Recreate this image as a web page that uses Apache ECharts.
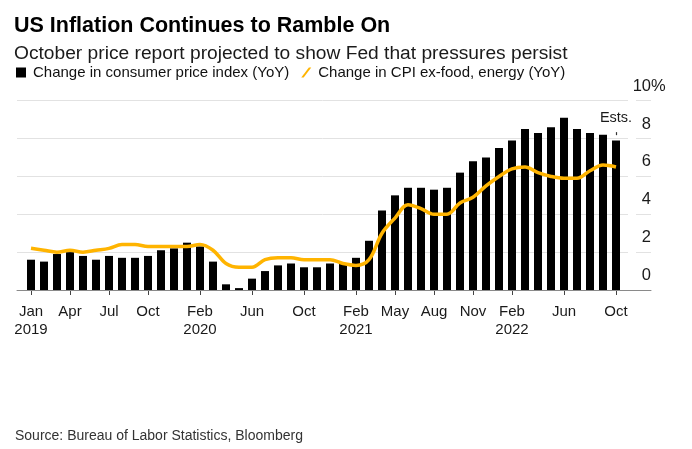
<!DOCTYPE html>
<html>
<head>
<meta charset="utf-8">
<script src="https://cdn.jsdelivr.net/npm/echarts@6/dist/echarts.min.js"></script>
<style>
html,body{margin:0;padding:0;background:#fff;}
#c{width:692px;height:449px;}
</style>
</head>
<body>
<div id="c"></div>
<script>
const months = [
  'Jan 2019','Feb 2019','Mar 2019','Apr 2019','May 2019','Jun 2019','Jul 2019','Aug 2019','Sep 2019','Oct 2019','Nov 2019','Dec 2019',
  'Jan 2020','Feb 2020','Mar 2020','Apr 2020','May 2020','Jun 2020','Jul 2020','Aug 2020','Sep 2020','Oct 2020','Nov 2020','Dec 2020',
  'Jan 2021','Feb 2021','Mar 2021','Apr 2021','May 2021','Jun 2021','Jul 2021','Aug 2021','Sep 2021','Oct 2021','Nov 2021','Dec 2021',
  'Jan 2022','Feb 2022','Mar 2022','Apr 2022','May 2022','Jun 2022','Jul 2022','Aug 2022','Sep 2022','Oct 2022'
];
const cpi = [
  1.6,1.5,1.9,2.0,1.8,1.6,1.8,1.7,1.7,1.8,2.1,2.2,
  2.5,2.3,1.5,0.3,0.1,0.6,1.0,1.3,1.4,1.2,1.2,1.4,
  1.4,1.7,2.6,4.2,5.0,5.4,5.4,5.3,5.4,6.2,6.8,7.0,
  7.5,7.9,8.5,8.3,8.6,9.1,8.5,8.3,8.2,7.9
];
const core = [
  2.2,2.1,2.0,2.1,2.0,2.1,2.2,2.4,2.4,2.3,2.3,2.3,
  2.3,2.4,2.1,1.4,1.2,1.2,1.6,1.7,1.7,1.6,1.6,1.6,
  1.4,1.3,1.6,3.0,3.8,4.5,4.3,4.0,4.0,4.6,4.9,5.5,
  6.0,6.4,6.5,6.2,6.0,5.9,5.9,6.3,6.6,6.5
];
const tickMonths = ['Jan 2019','Apr 2019','Jul 2019','Oct 2019','Feb 2020','Jun 2020','Oct 2020','Feb 2021','May 2021','Aug 2021','Nov 2021','Feb 2022','Jun 2022','Oct 2022'];
const yearMonths = ['Jan 2019','Feb 2020','Feb 2021','Feb 2022'];
const yTicks = [0, 2, 4, 6, 8, 10];
const estMonth = 'Oct 2022';
const estRange = [8.18, 8.34];

const cpiName = 'Change in consumer price index (YoY)';
const coreName = 'Change in CPI ex-food, energy (YoY)';
const FONT = '"Liberation Sans", Arial, sans-serif';

const chart = echarts.init(document.getElementById('c'), null, {renderer: 'canvas'});
const gridTop = 100.7, gridBottom = 159;
const option = {
  backgroundColor: '#fff',
  animation: false,
  textStyle: {fontFamily: FONT},
  title: [
    {text: 'US Inflation Continues to Ramble On', left: 9, top: 10,
     textStyle: {fontFamily: FONT, fontSize: 21.5, fontWeight: 'bold', color: '#000'}},
    {text: 'October price report projected to show Fed that pressures persist', left: 9, top: 39,
     textStyle: {fontFamily: FONT, fontSize: 19.2, fontWeight: 'normal', color: '#1a1a1a'}},
    {text: 'Source: Bureau of Labor Statistics, Bloomberg', left: 10, top: 424,
     textStyle: {fontFamily: FONT, fontSize: 14, fontWeight: 'normal', color: '#333'}}
  ],
  legend: {
    left: 11, top: 60, itemWidth: 10, itemHeight: 10, itemGap: 12,
    textStyle: {fontFamily: FONT, fontSize: 15, color: '#111', padding: [0,0,0,2]},
    data: [
      {name: cpiName, icon: 'rect'},
      {name: coreName, icon: 'path://M7.6,0L10,0L2.4,10L0,10Z'}
    ],
    selectedMode: false
  },
  grid: [
    {left: 24.5, right: 69.5, top: gridTop, bottom: gridBottom},
    {left: 17, right: 64, top: gridTop, bottom: gridBottom},
    {left: 636, right: 41, top: gridTop, bottom: gridBottom},
    {left: 17, right: 41, top: gridTop, bottom: gridBottom}
  ],
  xAxis: [
    {type: 'category', gridIndex: 0, data: months, boundaryGap: true,
     axisLine: {show: false},
     axisTick: {show: true, alignWithLabel: true, length: 5, lineStyle: {color: '#444', width: 1},
       interval: (i, v) => tickMonths.includes(v)},
     axisLabel: {show: true, margin: 13, fontFamily: FONT, fontSize: 15, lineHeight: 18, color: '#1a1a1a',
       interval: (i, v) => tickMonths.includes(v),
       formatter: (v) => { const p = v.split(' '); return yearMonths.includes(v) ? p[0] + '\n' + p[1] : p[0]; }},
     splitLine: {show: false}},
    {type: 'value', gridIndex: 1, show: false},
    {type: 'value', gridIndex: 2, show: false},
    {type: 'value', gridIndex: 3, min: 0, max: 1, z: 3,
     axisLine: {show: true, lineStyle: {color: '#8a8a8a', width: 1}},
     axisTick: {show: false}, axisLabel: {show: false}, splitLine: {show: false}}
  ],
  yAxis: [
    {type: 'value', gridIndex: 0, min: 0, max: 10, show: false},
    {type: 'value', gridIndex: 1, min: 0, max: 10, interval: 2,
     axisLine: {show: false}, axisTick: {show: false}, axisLabel: {show: false},
     splitLine: {show: true, lineStyle: {color: '#e2e2e2', width: 1}}},
    {type: 'value', gridIndex: 2, min: 0, max: 10, interval: 2, position: 'right',
     axisLine: {show: false}, axisTick: {show: false},
     axisLabel: {show: true, inside: true, margin: 0, align: 'right', verticalAlign: 'bottom',
       padding: [0, 0, 6, 0], fontFamily: FONT, fontSize: 16.5, color: '#1a1a1a',
       formatter: (v) => yTicks.includes(v) ? String(v) : ''},
     splitLine: {show: true, lineStyle: {color: '#e2e2e2', width: 1}}},
    {type: 'value', gridIndex: 3, min: 0, max: 1, show: false}
  ],
  series: [
    {name: cpiName, type: 'bar', xAxisIndex: 0, yAxisIndex: 0, data: cpi, barWidth: 8,
     itemStyle: {color: '#000'}, z: 4,
     markLine: {
       silent: true, symbol: ['none', 'none'], animation: false,
       lineStyle: {color: '#333', width: 1.2, type: 'solid'},
       label: {show: true, position: 'end', formatter: 'Ests.', distance: 7,
         fontFamily: FONT, fontSize: 14.5, color: '#1a1a1a'},
       data: [[{coord: [estMonth, estRange[0]]}, {coord: [estMonth, estRange[1]]}]]
     }},
    {name: coreName, type: 'line', xAxisIndex: 0, yAxisIndex: 0, data: core,
     smooth: 0.35, symbol: 'none', z: 5,
     lineStyle: {color: '#ffb400', width: 3.5}, itemStyle: {color: '#ffb400'}}
  ]
};
chart.setOption(option);
const y10 = chart.convertToPixel({yAxisIndex: 2}, 10);
chart.setOption({
  graphic: [{type: 'text', x: 651, y: y10 - 6, z: 10,
    style: {text: '%', font: '16.5px ' + FONT, fill: '#1a1a1a', textAlign: 'left', textVerticalAlign: 'bottom'}}]
});
</script>
</body>
</html>
